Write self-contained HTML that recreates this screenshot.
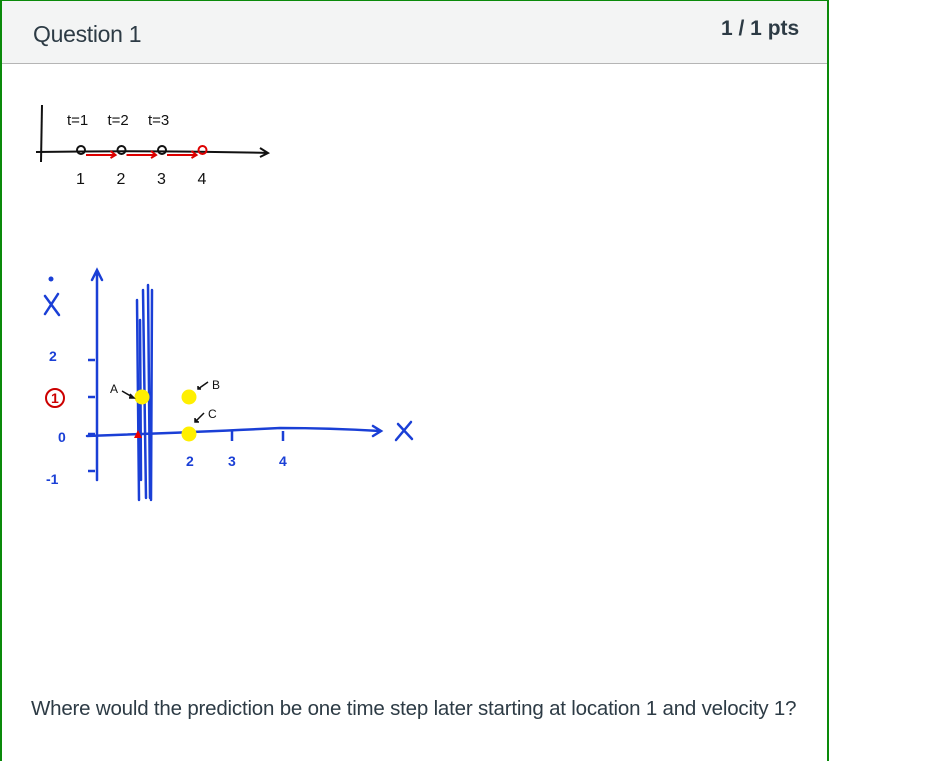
<!DOCTYPE html>
<html><head><meta charset="utf-8"><style>
body{margin:0;width:926px;height:747px;background:#fff;font-family:"Liberation Sans",sans-serif;position:relative;overflow:hidden}
#card{position:absolute;left:0;top:0;width:825px;height:760px;border:1px solid #0a8a0a;border-width:1px 2px 0 2px;box-sizing:content-box}
#hdr{position:absolute;left:0;top:0;width:825px;height:62px;background:#f3f4f4;border-bottom:1px solid #b5b5b5}
#q{position:absolute;left:31px;top:20px;font-size:23px;color:#2d3b45;letter-spacing:-0.3px}
#pts{position:absolute;left:719px;top:16px;font-size:21px;color:#2d3b45;font-weight:bold;letter-spacing:0px}
#txt{position:absolute;left:31px;top:697px;font-size:20.5px;color:#2d3b45;letter-spacing:-0.2px;white-space:nowrap}
svg{position:absolute;left:0;top:0}
</style></head><body>
<div id="card">
<div id="hdr">
<div id="q">Question 1</div>
<div id="pts">1 / 1 pts</div>
</div>
</div>
<svg width="926" height="747" font-family="Liberation Sans, sans-serif">
<g id="top" stroke="#111" fill="none" stroke-width="2">
<path d="M42 105 L41 162"/>
<path d="M36 152 Q150 150 268 153 M260 148 L268 153 L260 157"/>
</g>
<g id="phase" stroke="#1a3fd6" fill="none" stroke-width="2.5" stroke-linecap="round">
<path d="M97 480 L97 272 M92 280 L97 270 L102 280"/>
<path d="M87 436 Q200 432 280 428 Q330 428 380 431 M373 426 L381 431 L373 436"/>
<path d="M398 424 L412 439 M411 422 L396 440"/>
<path d="M137 300 L139 500 M143 290 L146 498 M148 285 L150 498 M152 290 L151 500 M140 320 L141 480"/>
<path d="M45 296 L59 315 M58 294 L45 314"/>
</g>
<circle cx="51" cy="279" r="2.5" fill="#1a3fd6"/>
<g id="labels" fill="#1a3fd6" font-size="14" font-weight="bold">
<text x="49" y="361">2</text><text x="58" y="442">0</text><text x="46" y="484">-1</text>
<text x="51" y="403" fill="#c00">1</text>
</g>
<circle cx="55" cy="398" r="9" fill="none" stroke="#c00" stroke-width="2"/>
<g id="dyn"></g>
<g font-size="12" fill="#111">
<text x="110" y="393">A</text><text x="212" y="389">B</text><text x="208" y="418">C</text>
</g>
<g stroke="#111" stroke-width="1.5">
<path d="M122 391 L134 398 M130 394 L134 398 L129 398"/>
<path d="M208 382 L198 389 M198 386 L198 389 L201 389"/>
<path d="M204 413 L195 422 M195 418 L195 422 L199 422"/>
</g>
</svg>
<div id="txt">Where would the prediction be one time step later starting at location 1 and velocity 1?</div>
<script>
const timeSteps=[1,2,3,4];
const timeLabels=["t=1","t=2","t=3"];
const yTicks=[2,1,0,-1];
const xTicks=[2,3,4];
const answerPoints=[{x:1,v:1},{x:2,v:1},{x:2,v:0}];
const ns="http://www.w3.org/2000/svg";
const g=document.getElementById('dyn');
function mk(t,a){const e=document.createElementNS(ns,t);for(const k in a)e.setAttribute(k,a[k]);g.appendChild(e);return e;}
const tx=v=>81+(v-1)*40.5;
timeSteps.forEach((s,i)=>{
 const c=mk('circle',{cx:tx(s),cy:150,r:4,fill:'none',stroke:i===3?'#d00':'#111','stroke-width':2});
 
 
 const t=mk('text',{x:tx(s)-5,y:184,'font-size':16,fill:'#111'});t.textContent=s;
 
 
 if(i<3){const a=mk('path',{d:`M${tx(s)+5} 155 L${tx(s+1)-6} 155 M${tx(s+1)-11} 151 L${tx(s+1)-6} 155 L${tx(s+1)-11} 158`,stroke:'#d00','stroke-width':2,fill:'none'});
 
 }
});
timeLabels.forEach((l,i)=>{const t=mk('text',{x:tx(i+1)-14,y:125,'font-size':15,fill:'#111'});t.textContent=l;
 
 });
const px=x=>142+(x-1)*47, py=v=>434-v*37;
yTicks.forEach(v=>{const p=mk('path',{d:`M88 ${py(v)} L95 ${py(v)}`,stroke:'#1a3fd6','stroke-width':2.5});
 
 });
xTicks.forEach(x=>{const xx=x===2?190:(x===3?232:283);
 if(x>2){const p=mk('path',{d:`M${xx} 431 L${xx} 441`,stroke:'#1a3fd6','stroke-width':2.5});
 
 }
 const t=mk('text',{x:xx-4,y:466,'font-size':14,'font-weight':'bold',fill:'#1a3fd6'});t.textContent=x;
 
 });
const tri=mk('path',{d:'M134 438 L138 430 L142 438 Z',fill:'#e00'});


answerPoints.forEach(p=>{const c=mk('circle',{cx:px(p.x),cy:py(p.v),r:7.5,fill:'#ffef00'});
 
 });
</script>
</body></html>
